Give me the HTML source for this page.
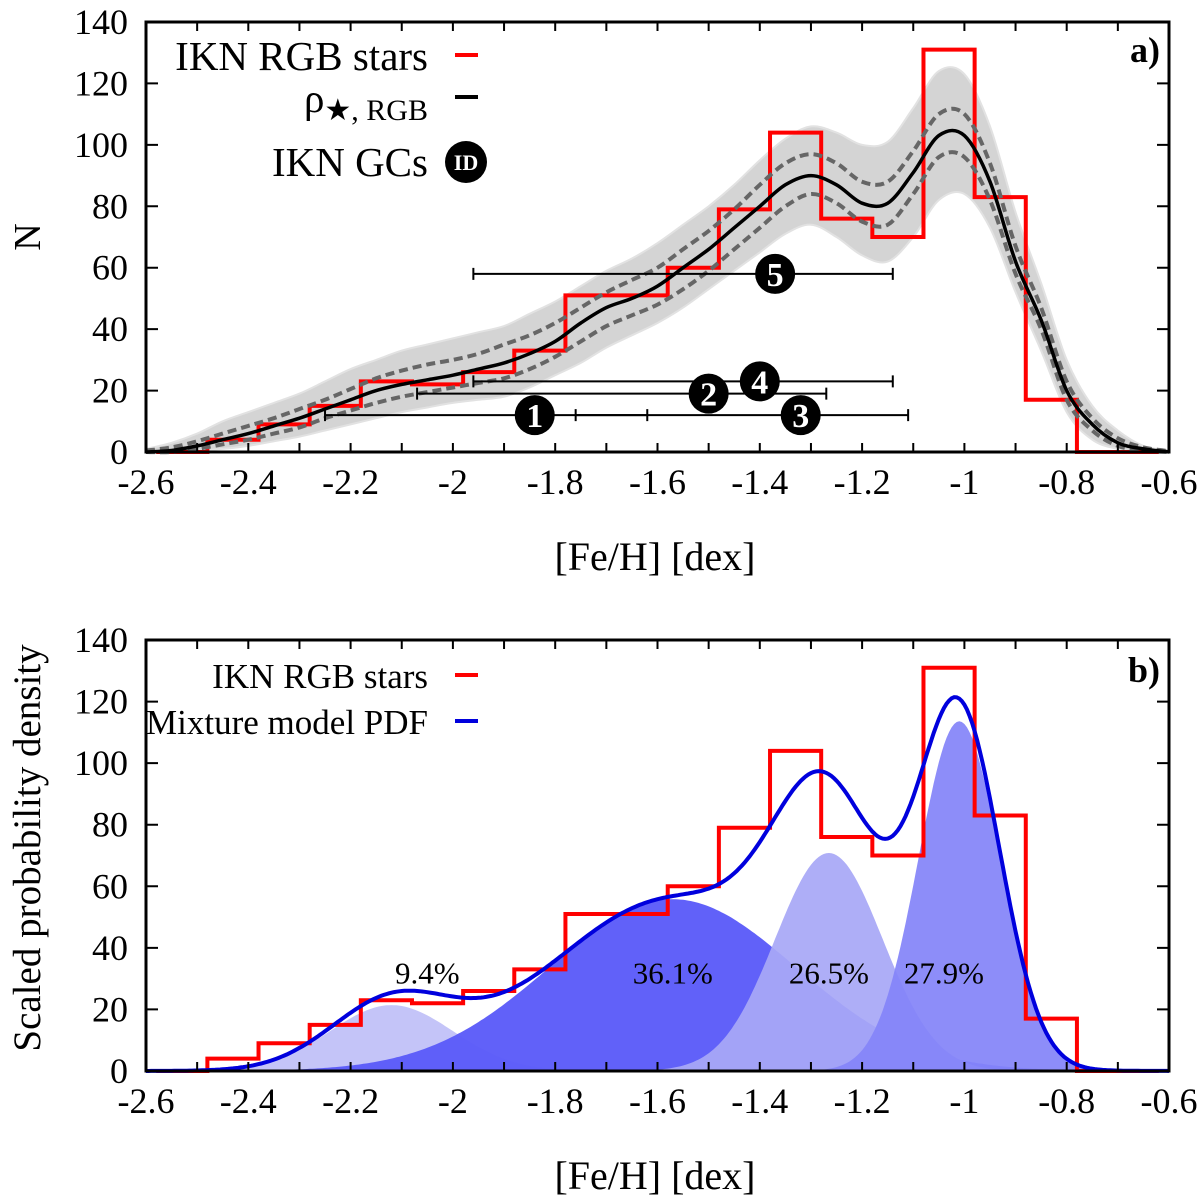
<!DOCTYPE html>
<html><head><meta charset="utf-8"><style>
html,body{margin:0;padding:0;background:#fff;}
svg{display:block;}
text{font-family:"Liberation Serif","DejaVu Serif",serif;}
</style></head><body>
<svg id="chart" width="1200" height="1200" viewBox="0 0 1200 1200" xmlns="http://www.w3.org/2000/svg" font-family="Liberation Serif, serif">
<rect width="1200" height="1200" fill="#fff"/>
<g id="top"></g>
<g id="bot"></g>
</svg>
<script>
// ---- data ----
const binEdgesStart = -2.48;
const binWidth = 0.1;
const histCounts = [4,9,15,23,22,26,33,51,51,60,79,104,76,70,131,83,17];
const kdeX = [-2.6,-2.55,-2.5,-2.45,-2.4,-2.35,-2.3,-2.25,-2.2,-2.15,-2.1,-2.05,-2.0,-1.95,-1.9,-1.85,-1.8,-1.75,-1.7,-1.65,-1.6,-1.55,-1.5,-1.45,-1.4,-1.35,-1.3,-1.25,-1.2,-1.15,-1.1,-1.05,-1.0,-0.95,-0.9,-0.85,-0.8,-0.75,-0.7,-0.65,-0.6];
const kdeMid = [0,0.5,2,4,6,8.5,11,14,17,20,22,23.5,25,27,29,32,36,42,47,50,54,60,66,73,80,87,90,87,81,81,91,103,103,88,62,43,20,9,3,1,0];
const kdeUp = [0.5,1.5,3.5,6,8.5,11,14,17,20.5,24,26.5,28.5,30,32,35,38,42,47,52,56,60,66,72,79,87,94,97,94,88,88,98,110,110,94,67,47,23,11,4.5,1.5,0.3];
const kdeLo = [0,0,1,2.5,4,6,8,11,13.5,16,18,19.5,21,22.5,24,27,31,36,41,44.5,48,53,59,66,73,80,84,81,75,74,84,96,96,82,58,40,17,7,2,0.5,0];
const bandHi = [1,3,6,10,13,16,19,23,27,30,33,35,37,39,41,45,49,54,59,63,68,74,80,87,95,102,106,104,100,101,112,124,123,106,78,55,30,15,7,2,0.5];
const bandLo = [0,0,0.5,1,2,3.5,5,7,9,11,13,14.5,16,17,18,21,25,29,34,38,42,47,53,59,65,71,74,70,64,62,70,82,84,73,52,33,13,4,1,0,0];
const gcIds = ["1","2","3","4","5"];
const gcFeH = [-1.84,-1.50,-1.32,-1.40,-1.37];
const gcLo = [-2.25,-2.07,-1.76,-1.96,-1.96];
const gcHi = [-1.62,-1.27,-1.11,-1.14,-1.14];
const gcY = [12,19,12,23,58];
const compMean = [-2.12,-1.57,-1.265,-1.01];
const compPeak = [21.4,55.8,70.8,113.6];
const compSigma = [0.12,0.24,0.105,0.08];
const compLabel = ["9.4%","36.1%","26.5%","27.9%"];
const compLabelX = [-2.05,-1.57,-1.265,-1.04];
const xTicks = [-2.6,-2.4,-2.2,-2,-1.8,-1.6,-1.4,-1.2,-1,-0.8,-0.6];
const xTickLabels = ["-2.6","-2.4","-2.2","-2","-1.8","-1.6","-1.4","-1.2","-1","-0.8","-0.6"];
const yTicks = [0,20,40,60,80,100,120,140];

const NS="http://www.w3.org/2000/svg";
const L=146,R=1169;
function sx(v){return L+(v+2.6)/2.0*(R-L);}
function mk(parent,tag,attrs,text){const e=document.createElementNS(NS,tag);for(const k in attrs)e.setAttribute(k,attrs[k]);if(tag==='text')e.setAttribute('font-family','Liberation Serif, serif');if(text!==undefined)e.textContent=text;parent.appendChild(e);return e;}

function axes(g,T,B,sy,panel){
  for(let i=0;i<=20;i++){const v=-2.6+i*0.1;const x=sx(v);
    const t=mk(g,'path',{d:`M${x},${B}v-9M${x},${T}v9`,stroke:'#000','stroke-width':2});
    
    }
  xTicks.forEach((v,i)=>{const t=mk(g,'text',{x:sx(v),y:B+42,'font-size':36,'text-anchor':'middle'},xTickLabels[i]);
    
    });
  yTicks.forEach(v=>{const y=sy(v);
    const t=mk(g,'path',{d:`M${L},${y}h12M${R},${y}h-12`,stroke:'#000','stroke-width':2});
    
    
    const l=mk(g,'text',{x:128,y:y+12,'font-size':36,'text-anchor':'end'},String(v));
    
    });
  const f=mk(g,'rect',{x:L,y:T,width:R-L,height:B-T,fill:'none',stroke:'#000','stroke-width':3});
  
  
  const xt=mk(g,'text',{x:655,y:B+118,'font-size':40,'text-anchor':'middle'},'[Fe/H] [dex]');
  
  
}
function histPath(sy){
  let d=`M${sx(-2.58)},${sy(0)}L${sx(binEdgesStart)},${sy(0)}`;
  histCounts.forEach((c,i)=>{const a=sx(binEdgesStart+i*binWidth),b=sx(binEdgesStart+(i+1)*binWidth);d+=`L${a},${sy(c)}L${b},${sy(c)}`;});
  const end=binEdgesStart+histCounts.length*binWidth;
  d+=`L${sx(end)},${sy(0)}L${sx(-0.62)},${sy(0)}`;return d;}
function linePath(xs,ys,sy){return xs.map((x,i)=>(i?'L':'M')+sx(x).toFixed(1)+','+sy(ys[i]).toFixed(1)).join('');}
function pts(xs,ys,sy){return xs.map((x,i)=>[sx(x),sy(ys[i])]);}
function smooth(p,start){let d=start?'M'+p[0][0].toFixed(1)+','+p[0][1].toFixed(1):'L'+p[0][0].toFixed(1)+','+p[0][1].toFixed(1);
  for(let i=0;i<p.length-1;i++){const p0=p[Math.max(0,i-1)],p1=p[i],p2=p[i+1],p3=p[Math.min(p.length-1,i+2)];
    const c1=[p1[0]+(p2[0]-p0[0])/6,p1[1]+(p2[1]-p0[1])/6],c2=[p2[0]-(p3[0]-p1[0])/6,p2[1]-(p3[1]-p1[1])/6];
    d+=`C${c1[0].toFixed(1)},${c1[1].toFixed(1)} ${c2[0].toFixed(1)},${c2[1].toFixed(1)} ${p2[0].toFixed(1)},${p2[1].toFixed(1)}`;}
  return d;}

// ---- panel a ----
(function(){
  const g=document.getElementById('top');const T=22,B=452;
  const sy=v=>B-v/140*(B-T);
  const hiP=pts(kdeX,bandHi,sy),loP=pts(kdeX,bandLo,sy).reverse();
  const band=mk(g,'path',{d:smooth(hiP,true)+smooth(loP,false)+'Z',fill:'#d4d4d4',stroke:'#e2e2e2','stroke-width':2});
  
  
  const h=mk(g,'path',{d:histPath(sy),fill:'none',stroke:'#ff0000','stroke-width':4});
  
  
  const up=mk(g,'path',{d:smooth(pts(kdeX,kdeUp,sy),true),fill:'none',stroke:'#666','stroke-width':4,'stroke-dasharray':'9,5'});
  
  
  const lo=mk(g,'path',{d:smooth(pts(kdeX,kdeLo,sy),true),fill:'none',stroke:'#666','stroke-width':4,'stroke-dasharray':'9,5'});
  
  
  const k=mk(g,'path',{d:smooth(pts(kdeX,kdeMid,sy),true),fill:'none',stroke:'#000','stroke-width':3.5});
  
  
  gcIds.forEach((id,i)=>{const y=sy(gcY[i]);
    const bar=mk(g,'path',{d:`M${sx(gcLo[i])},${y}H${sx(gcHi[i])}M${sx(gcLo[i])},${y-6}v12M${sx(gcHi[i])},${y-6}v12`,stroke:'#000','stroke-width':2});
    
    });
  gcIds.forEach((id,i)=>{const y=sy(gcY[i]),x=sx(gcFeH[i]);
    const c=mk(g,'circle',{cx:x,cy:y,r:20,fill:'#000'});
    
    
    const t=mk(g,'text',{x:x,y:y+12,'font-size':34,'font-weight':'bold','text-anchor':'middle',fill:'#fff'},id);
    
    });
  axes(g,T,B,sy,'panel-a');
  const yl=mk(g,'text',{x:0,y:0,'font-size':38,'text-anchor':'middle',transform:'translate(40,237) rotate(-90)'},'N');
  
  
  const lab=mk(g,'text',{x:1160,y:62,'font-size':36,'font-weight':'bold','text-anchor':'end'},'a)');
  
  
  const l1=mk(g,'text',{x:428,y:70,'font-size':41,'text-anchor':'end'},'IKN RGB stars');
  
  
  mk(g,'path',{d:'M455,55h23',stroke:'#f00','stroke-width':4});
  const l2=mk(g,'text',{x:428,y:112,'font-size':41,'text-anchor':'end'});
  
  
  mk(l2,'tspan',{},'ρ');mk(l2,'tspan',{'font-size':30,dy:8},'★, RGB');
  mk(g,'path',{d:'M455,97h23',stroke:'#000','stroke-width':4});
  const l3=mk(g,'text',{x:428,y:176,'font-size':41,'text-anchor':'end'},'IKN GCs');
  
  
  mk(g,'circle',{cx:466,cy:162,r:21,fill:'#000'});
  mk(g,'text',{x:466,y:170,'font-size':22,'font-weight':'bold','text-anchor':'middle',fill:'#fff'},'ID');
})();

// ---- panel b ----
(function(){
  const g=document.getElementById('bot');const T=640,B=1071;
  const sy=v=>B-v/140*(B-T);
  const grid=[];for(let i=0;i<=400;i++)grid.push(-2.6+i*0.005);
  const comp=(j,x)=>compPeak[j]*Math.exp(-Math.pow(x-compMean[j],2)/(2*compSigma[j]*compSigma[j]));
  const fills=['#c4c4f8','#5c5cf9','#a8a8f6','#8484f9'];
  const ops=[1,0.97,0.93,0.93];
  compMean.forEach((m,j)=>{
    let d=`M${sx(-2.6)},${sy(0)}`;grid.forEach(x=>{d+=`L${sx(x).toFixed(1)},${sy(comp(j,x)).toFixed(1)}`;});
    d+=`L${sx(-0.6)},${sy(0)}Z`;
    const p=mk(g,'path',{d:d,fill:fills[j],'fill-opacity':ops[j]});
    
    });
  compLabel.forEach((t,j)=>{const e=mk(g,'text',{x:sx(compLabelX[j]),y:sy(32)+11,'font-size':31,'text-anchor':'middle'},t);
    
    });
  const h=mk(g,'path',{d:histPath(sy),fill:'none',stroke:'#ff0000','stroke-width':4});
  
  
  const tot=grid.map(x=>compMean.reduce((s,_,j)=>s+comp(j,x),0));
  const m=mk(g,'path',{d:linePath(grid,tot,sy),fill:'none',stroke:'#0000dd','stroke-width':4});
  
  
  axes(g,T,B,sy,'panel-b');
  const yl=mk(g,'text',{x:0,y:0,'font-size':39,'text-anchor':'middle',transform:'translate(40,848) rotate(-90)'},'Scaled probability density');
  
  
  const lab=mk(g,'text',{x:1160,y:682,'font-size':36,'font-weight':'bold','text-anchor':'end'},'b)');
  
  
  const l1=mk(g,'text',{x:428,y:688,'font-size':35,'text-anchor':'end'},'IKN RGB stars');
  
  
  mk(g,'path',{d:'M455,675h23',stroke:'#f00','stroke-width':4});
  const l2=mk(g,'text',{x:428,y:734,'font-size':35,'text-anchor':'end'},'Mixture model PDF');
  
  
  mk(g,'path',{d:'M455,721h23',stroke:'#0000dd','stroke-width':4});
})();
</script>
</body></html>
